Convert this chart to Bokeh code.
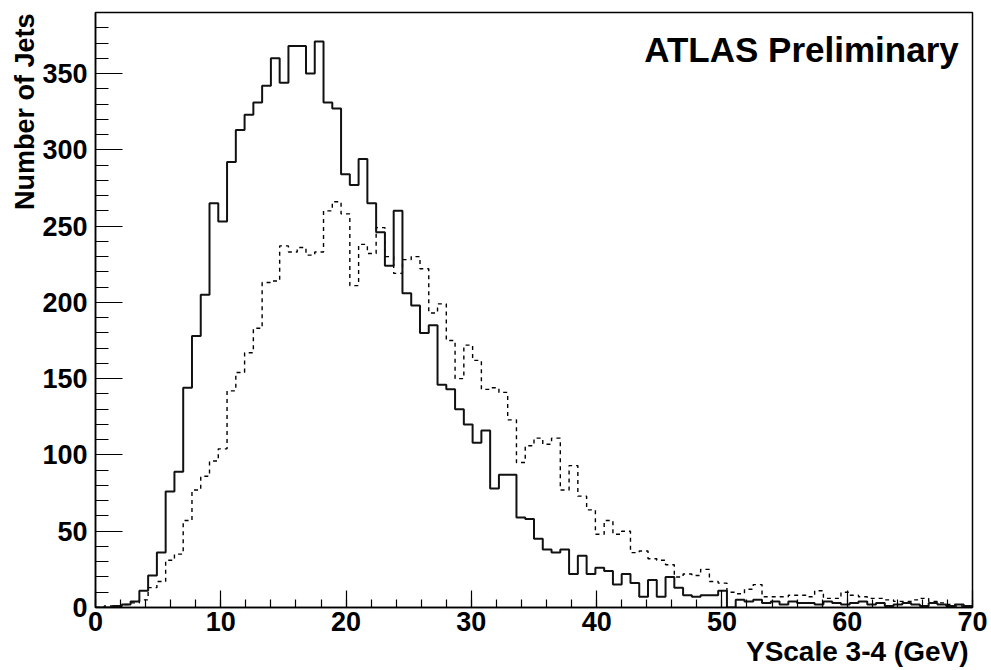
import numpy as np
from bokeh.plotting import figure
from bokeh.models import Range1d, SingleIntervalTicker, Label, Title
from bokeh.embed import file_html
from bokeh.resources import INLINE

# ---- data -------------------------------------------------------------
n_bins = 100
bin_width = 0.7          # GeV, 100 bins from 0 to 70
bin_edges = np.round(np.arange(n_bins + 1) * bin_width, 3)

solid_counts = [
    0, 0, 1, 2, 4, 11, 21, 36, 76, 89,
    144, 178, 205, 265, 253, 292, 313, 323, 331, 342,
    360, 344, 368, 368, 350, 371, 331, 327, 284, 277,
    294, 265, 246, 224, 260, 206, 198, 180, 185, 146,
    143, 130, 120, 108, 116, 78, 87, 87, 59, 58,
    45, 38, 36, 38, 22, 34, 22, 26, 24, 15,
    22, 16, 7, 18, 7, 20, 13, 8, 7, 8,
    8, 11, 0, 5, 4, 5, 3, 4, 2, 4,
    3, 3, 2, 4, 3, 2, 3, 4, 2, 3,
    1, 2, 3, 2, 1, 3, 2, 1, 2, 1,
]

dashed_counts = [
    0, 1, 1, 2, 3, 5, 13, 17, 31, 35,
    57, 77, 86, 96, 104, 142, 154, 167, 183, 213,
    214, 237, 233, 236, 231, 233, 260, 266, 258, 211,
    238, 232, 249, 230, 219, 228, 230, 222, 193, 199,
    175, 150, 172, 162, 143, 144, 141, 123, 95, 106,
    111, 107, 111, 77, 93, 73, 64, 48, 57, 48,
    50, 36, 37, 32, 31, 28, 20, 22, 21, 25,
    17, 16, 10, 9, 12, 15, 7, 7, 7, 8,
    8, 7, 11, 6, 6, 10, 8, 7, 6, 6,
    5, 4, 4, 5, 6, 4, 3, 2, 1, 1,
]

x_ticks_interval = 10
y_ticks_interval = 50
x_title = "YScale 3-4 (GeV)"
y_title = "Number of Jets"
atlas_text = "ATLAS Preliminary"

# ---- figure -----------------------------------------------------------
FONT = "Liberation Sans"

p = figure(width=991, height=670,
           x_range=Range1d(0, 70), y_range=Range1d(0, 390),
           output_backend="svg", toolbar_location=None,
           min_border_left=95, min_border_right=19,
           min_border_top=12, min_border_bottom=63)

p.background_fill_color = "white"
p.border_fill_color = "white"
p.grid.visible = False
p.outline_line_color = "black"
p.outline_line_width = 1.5

p.xaxis.ticker = SingleIntervalTicker(interval=x_ticks_interval, num_minor_ticks=5)
p.yaxis.ticker = SingleIntervalTicker(interval=y_ticks_interval, num_minor_ticks=5)

for ax in (p.xaxis[0], p.yaxis[0]):
    ax.axis_line_color = "black"
    ax.axis_line_width = 1.5
    ax.major_tick_line_color = "black"
    ax.minor_tick_line_color = "black"
    ax.major_tick_line_width = 1.2
    ax.minor_tick_line_width = 1.2
    ax.major_tick_out = 0
    ax.minor_tick_out = 0
    ax.major_label_text_font = FONT
    ax.major_label_text_font_style = "bold"
    ax.major_label_text_font_size = "27px"
    ax.major_label_text_color = "black"

p.yaxis.major_tick_in = 27
p.yaxis.minor_tick_in = 13
p.yaxis.major_label_standoff = 8
p.xaxis.major_tick_in = 17
p.xaxis.minor_tick_in = 8
p.xaxis.major_label_standoff = 4

# ---- histograms -------------------------------------------------------
solid_y = list(solid_counts) + [solid_counts[-1]]
dashed_y = list(dashed_counts) + [dashed_counts[-1]]

p.step(x=bin_edges, y=dashed_y, mode="after", line_color="black",
       line_width=1.4, line_dash="4 4")
p.step(x=bin_edges, y=solid_y, mode="after", line_color="#111111",
       line_width=2.0)

# ---- texts ------------------------------------------------------------
p.add_layout(Label(x=68.9, y=366, text=atlas_text, text_align="right",
                   text_baseline="alphabetic", text_font=FONT,
                   text_font_style="bold", text_font_size="35px",
                   text_color="black"))

xt = Title(text=x_title, align="right", offset=4, standoff=0,
           text_font=FONT, text_font_style="bold",
           text_font_size="28px", text_color="black")
p.add_layout(xt, "below")

yt = Title(text=y_title, align="right", offset=1, standoff=0,
           text_font=FONT, text_font_style="bold",
           text_font_size="27px", text_color="black")
p.add_layout(yt, "left")

open("out.html", "w").write(file_html(p, INLINE))
